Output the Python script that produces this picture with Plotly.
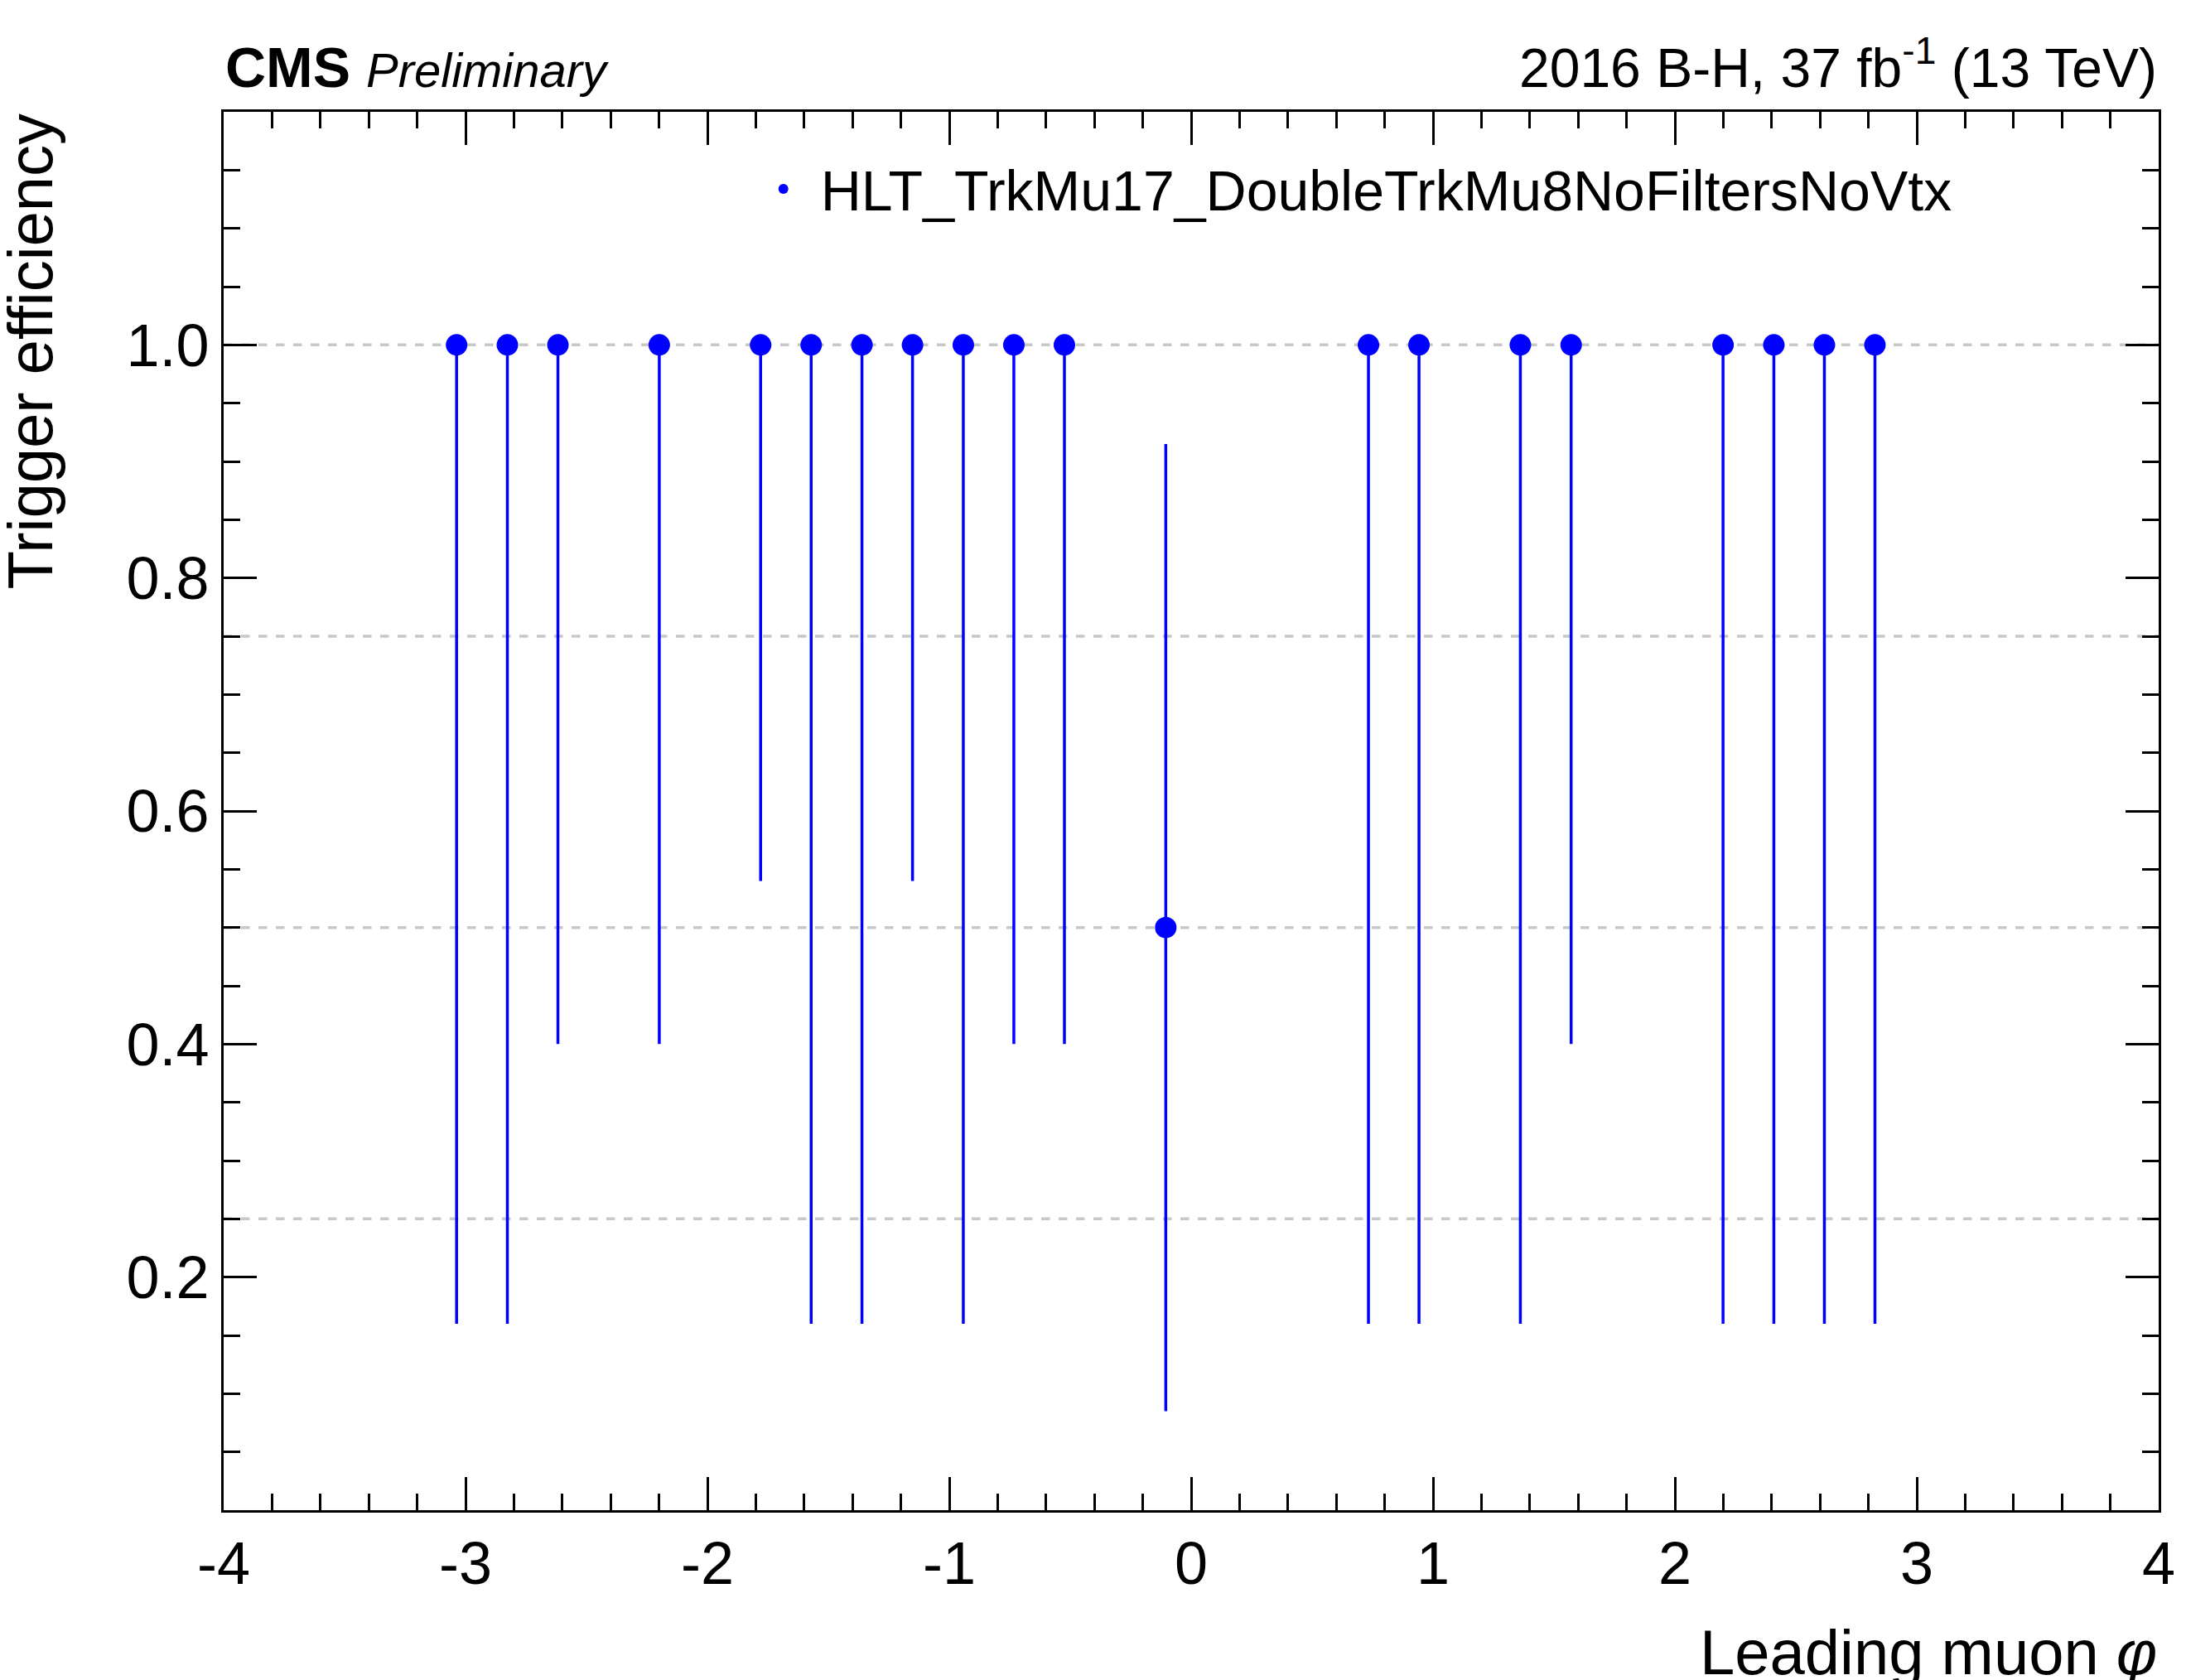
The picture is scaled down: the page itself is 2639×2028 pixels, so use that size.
import plotly.graph_objects as go

# bin centres (leading muon phi), efficiency, lower/upper error bounds
phi = [-3.037, -2.827, -2.618, -2.199, -1.780, -1.571, -1.361, -1.152, -0.942, -0.733,
       -0.524, -0.105, 0.733, 0.942, 1.361, 1.571, 2.199, 2.409, 2.618, 2.827]
eff = [1.0, 1.0, 1.0, 1.0, 1.0, 1.0, 1.0, 1.0, 1.0, 1.0,
       1.0, 0.5, 1.0, 1.0, 1.0, 1.0, 1.0, 1.0, 1.0, 1.0]
low = [0.16, 0.16, 0.40, 0.40, 0.54, 0.16, 0.16, 0.54, 0.16, 0.40,
       0.40, 0.085, 0.16, 0.16, 0.16, 0.40, 0.16, 0.16, 0.16, 0.16]
high = [1.0, 1.0, 1.0, 1.0, 1.0, 1.0, 1.0, 1.0, 1.0, 1.0,
        1.0, 0.915, 1.0, 1.0, 1.0, 1.0, 1.0, 1.0, 1.0, 1.0]
grid_y = [0.25, 0.5, 0.75, 1.0]
x_ticks = [-4, -3, -2, -1, 0, 1, 2, 3, 4]

FONT = "Liberation Sans, Arial, sans-serif"
BLUE = "#0000ff"

fig = go.Figure()
fig.add_trace(go.Scatter(
    x=phi, y=eff, mode="markers",
    marker=dict(color=BLUE, size=26),
    error_y=dict(type="data", symmetric=False,
                 array=[h - e for h, e in zip(high, eff)],
                 arrayminus=[e - l for e, l in zip(eff, low)],
                 color=BLUE, thickness=3.5, width=0),
    name="HLT_TrkMu17_DoubleTrkMu8NoFiltersNoVtx",
))

for g in grid_y:
    fig.add_shape(type="line", xref="paper", x0=0, x1=1, y0=g, y1=g,
                  line=dict(color="#c8c8c8", width=3.5, dash="dash"), layer="below")

axis_common = dict(showline=True, linecolor="black", linewidth=3, mirror="ticks",
                   ticks="inside", tickwidth=3, tickcolor="black", showgrid=False,
                   zeroline=False, tickfont=dict(size=72, family=FONT, color="black"))

fig.update_xaxes(range=[-4, 4], tickvals=x_ticks, ticktext=[str(t) for t in x_ticks], ticklen=40,
                 minor=dict(dtick=0.2, ticks="inside", ticklen=20, tickwidth=3, tickcolor="black"),
                 **axis_common)
fig.update_yaxes(range=[0, 1.2], tickvals=[0.2, 0.4, 0.6, 0.8, 1.0],
                 ticktext=["0.2", "0.4", "0.6", "0.8", "1.0"], ticklen=40,
                 minor=dict(dtick=0.05, ticks="inside", ticklen=20, tickwidth=3, tickcolor="black"),
                 **axis_common)

# axis titles anchored at the ends, ROOT style
fig.add_annotation(xref="paper", yref="paper", x=1, y=-0.075, xanchor="right", yanchor="top",
                   showarrow=False, font=dict(size=76, family=FONT, color="black"),
                   text="Leading muon <i>φ</i>")
fig.add_annotation(xref="paper", yref="paper", x=-0.1, y=1, xanchor="center", yanchor="top",
                   textangle=-90, showarrow=False, font=dict(size=76, family=FONT, color="black"),
                   text="Trigger efficiency")

fig.add_annotation(xref="paper", yref="paper", x=0, y=1.008, xanchor="left", yanchor="bottom",
                   showarrow=False, font=dict(size=68, family=FONT, color="black"),
                   text="<b>CMS</b> <i><span style='font-size:58px'>Preliminary</span></i>")
fig.add_annotation(xref="paper", yref="paper", x=1, y=1.008, xanchor="right", yanchor="bottom",
                   showarrow=False, font=dict(size=66, family=FONT, color="black"),
                   text="2016 B-H, 37 fb<sup>-1</sup> (13 TeV)")

fig.update_layout(
    width=2639, height=2028,
    margin=dict(l=262, r=41, t=127, b=213),
    paper_bgcolor="white", plot_bgcolor="white",
    showlegend=True,
    legend=dict(x=0.27, y=0.975, xanchor="left", yanchor="top", bgcolor="rgba(0,0,0,0)",
                itemsizing="constant", itemwidth=80,
                font=dict(size=68, family=FONT, color="black")),
)

fig.write_html("out.html")
